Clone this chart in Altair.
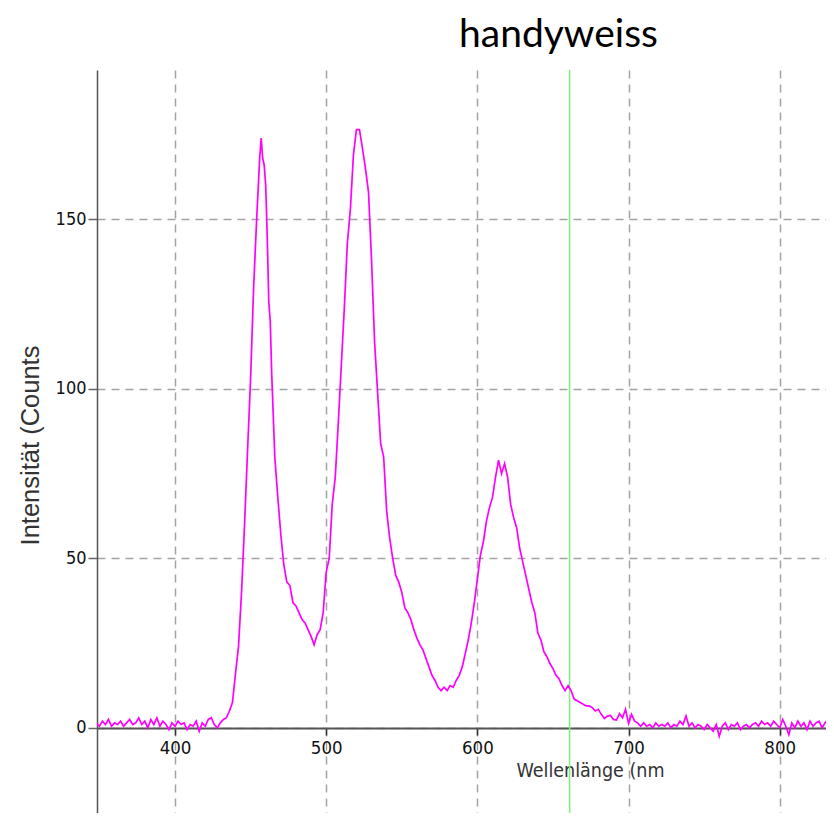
import altair as alt
import pandas as pd

wavelength_nm = [
    348, 350, 352, 354, 356, 358, 360, 362, 364, 366, 368, 370, 372, 374, 376, 378, 380, 382, 384, 386,
    388, 390, 392, 394, 396, 398, 400, 402, 404, 406, 408, 410, 412, 414, 416, 418, 420, 422, 424, 426,
    428, 430, 432, 434, 436, 438, 440, 442, 444, 446, 448, 450, 452, 454, 456, 457, 458, 459, 460, 461,
    462, 463, 464, 466, 468, 470, 472, 474, 476, 478, 480, 482, 484, 486, 488, 490, 492, 494, 496, 498,
    500, 502, 504, 506, 508, 510, 512, 514, 516, 518, 520, 522, 524, 526, 528, 530, 532, 534, 536, 538,
    540, 542, 544, 546, 548, 550, 552, 554, 556, 558, 560, 562, 564, 566, 568, 570, 572, 574, 576, 578,
    580, 582, 584, 586, 588, 590, 592, 594, 596, 598, 600, 602, 604, 606, 608, 610, 612, 614, 616, 618,
    620, 622, 624, 626, 628, 630, 632, 634, 636, 638, 640, 642, 644, 646, 648, 650, 652, 654, 656, 658,
    660, 662, 664, 666, 668, 670, 672, 674, 676, 678, 680, 682, 684, 686, 688, 690, 692, 694, 696, 698,
    700, 702, 704, 706, 708, 710, 712, 714, 716, 718, 720, 722, 724, 726, 728, 730, 732, 734, 736, 738,
    740, 742, 744, 746, 748, 750, 752, 754, 756, 758, 760, 762, 764, 766, 768, 770, 772, 774, 776, 778,
    780, 782, 784, 786, 788, 790, 792, 794, 796, 798, 800, 802, 804, 806, 808, 810, 812, 814, 816, 818,
    820, 822, 824, 826, 828, 830, 832, 834, 836,
]

counts = [
    1.5, 0.5, 2, 1, 2.5, 0.5, 1.5, 1, 2, 0.5, 1.5, 2.5, 1, 1.5, 3, 1, 2, 0, 2.5, 1,
    3, 0.5, 2, 1, -0.5, 1.5, 0.5, 2, 1, 1.5, -0.5, 1, 0.5, 2, -1, 1.5, 0.5, 2.5, 3, 1,
    0, 1.5, 2.5, 3, 5, 7.5, 16, 24, 40, 60, 82, 103, 130, 150, 168, 174, 168, 166, 160, 145,
    126, 120, 104, 80, 68, 57, 48, 43, 42, 37, 36, 34, 32, 31, 29, 27, 24.5, 27.5, 29, 34,
    46, 50, 66, 74, 90, 107, 124, 143, 153, 169, 176.5, 176.5, 171, 165, 158, 138, 114, 99, 84, 80,
    64, 56, 50, 45, 43, 40, 35.5, 34, 32, 29, 26.5, 24.5, 23, 20.5, 18, 15.5, 14, 12, 11, 12,
    11, 12.5, 12, 14, 15.5, 18, 22, 26, 31, 37, 44, 51, 55, 61, 65, 68, 74, 79, 75, 78,
    74, 66, 62, 59, 53, 49, 45, 41, 37, 34, 28, 26, 22.5, 21, 19, 17.5, 15.5, 14.5, 12.5, 11,
    12.5, 11, 8.5, 8, 7.5, 7, 6.5, 6.5, 6, 5, 5.5, 4, 2.8, 3.5, 3.7, 2.5, 2.3, 4.2, 3, 5.5,
    1.3, 4, 2, 1.5, 0.5, 1.5, 0.5, 1, 0, 1.5, 0.5, 1, 0.5, 1.5, 0, 1, 0.5, 2, 1, 3.5,
    0.5, 1.5, 0, 1, 0.5, -0.5, 1, 0, -1, 1, -2.5, 0.5, 1.5, -0.5, 1, 0.5, 1.5, -0.5, 0.5, 1,
    0, 1, 1.5, 0.5, 2, 1, 1.5, 0.5, 2, 1, 0, 2.5, 0.5, -2, 1.5, 0, 2, 0.5, 1.5, -0.5,
    2, 0.5, 1.5, 2, 0, 1.5, 2.5, 0.5, 1.5,
]

marker_nm = [661]
x_ticks = [400, 500, 600, 700, 800]
y_ticks = [0, 50, 100, 150]

df = pd.DataFrame({"nm": wavelength_nm, "counts": counts})
marker_df = pd.DataFrame({"nm": marker_nm})

x_scale = alt.Scale(domain=[348.4, 830.6], nice=False, zero=False)
y_scale = alt.Scale(domain=[-25.1, 194.1], nice=False, zero=False)

grid_color = "#a3a3a3"
narrow_font = "DejaVu Sans Condensed, sans-serif"
label_font = "Liberation Sans"

x_axis = alt.Axis(
    values=x_ticks,
    title="Wellenlänge (nm",
    offset=-85,
    grid=True,
    gridDash=[8, 6],
    gridColor=grid_color,
    gridWidth=1.5,
    domainColor="#555555",
    domainWidth=2,
    tickColor="#333333",
    tickSize=7,
    tickWidth=1.5,
    labelFont=narrow_font,
    labelFontSize=18.5,
    labelColor="#111111",
    labelPadding=3,
    titleFont=narrow_font,
    titleFontSize=19.5,
    titleFontWeight="normal",
    titleColor="#333333",
    titleX=493,
    titleY=42,
    titleBaseline="middle",
    format="d",
)

y_axis = alt.Axis(
    values=y_ticks,
    title="Intensität (Counts",
    grid=True,
    gridDash=[8, 6],
    gridColor=grid_color,
    gridWidth=1.5,
    domainColor="#555555",
    domainWidth=1.5,
    tickColor="#666666",
    tickSize=9,
    tickWidth=1.5,
    labelFont=narrow_font,
    labelFontSize=18,
    labelColor="#111111",
    labelPadding=2,
    titleFont=label_font,
    titleFontSize=25.5,
    titleFontWeight="normal",
    titleColor="#333333",
    titleX=-54,
    titleY=375,
)

spectrum = alt.Chart(df).mark_line(color="#ff00ff", strokeWidth=1.7, clip=True).encode(
    x=alt.X("nm:Q", scale=x_scale, axis=x_axis),
    y=alt.Y("counts:Q", scale=y_scale, axis=y_axis),
)

marker = alt.Chart(marker_df).mark_rule(color="#7cf07c", strokeWidth=1.5).encode(
    x=alt.X("nm:Q", scale=x_scale),
)

chart = (
    alt.layer(marker, spectrum)
    .properties(
        width=729,
        height=743,
        autosize=alt.AutoSizeParams(type="none"),
        padding={"left": 89, "top": 62, "right": 0, "bottom": 0},
        title=alt.TitleParams(
            "handyweiss",
            font="Lato",
            fontSize=39,
            fontWeight="normal",
            color="#000000",
            anchor="start",
            frame="group",
            dx=362,
            dy=39,
            offset=22,
            baseline="alphabetic",
        ),
        background="#ffffff",
    )
    .configure_view(stroke=None)
)

chart.save("out.html", embed_options={"renderer": "svg", "actions": False})
